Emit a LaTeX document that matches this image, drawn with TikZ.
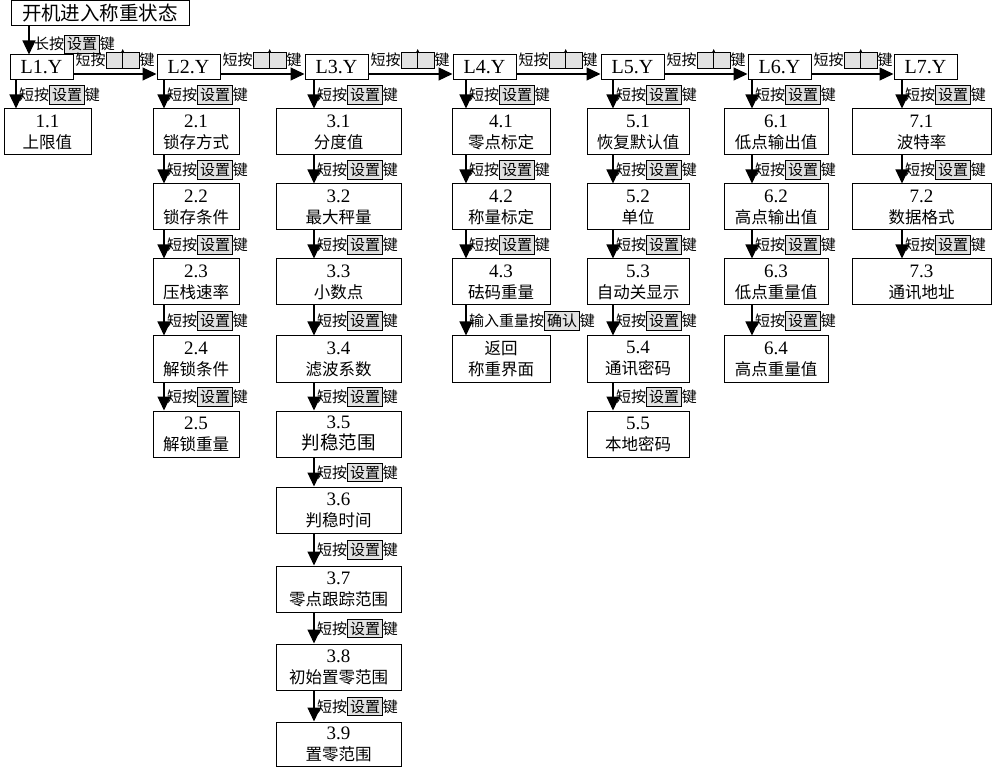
\documentclass[tikz,border=0pt]{standalone}
\usepackage{fontspec}
\setmainfont{Liberation Serif}
\newfontfamily\cjk{Noto Sans CJK SC}
\usetikzlibrary{arrows.meta,calc}
\definecolor{keygray}{HTML}{E2E2E2}
\setlength{\fboxsep}{1.8pt}
\setlength{\fboxrule}{1pt}
\newcommand{\zh}[1]{{\cjk #1}}
\newcommand{\gkey}[1]{\fcolorbox{black}{keygray}{\zh{#1}}}
\newcommand{\upkey}{\tikz[baseline=0pt]{\draw[line width=1pt,fill=keygray] (0pt,-3pt) rectangle (33pt,13pt); \draw[line width=0.7pt,-{Stealth[length=4pt,width=3.5pt]}] (16.5pt,-3pt) -- (16.5pt,17pt);}}
\newcommand{\dlab}{\zh{短按}\gkey{设置}\zh{键}}
\newcommand{\subbox}[6]{\node[box, minimum width={#3-#2}] (#1) at ({(#2+#3)/2},{#4+23}) {{\fontsize{19}{21}\selectfont #5}\\{\cjk\fontsize{16.5}{21}\selectfont #6}};}
\newcommand{\stepdown}[4]{\draw[arr] (#1.south -| #3) -- (#2.north -| #3);
  \path (#1.south -| #3) -- (#2.north -| #3) node[midway, lab, anchor=base west, xshift=3pt, yshift=-6pt] (lab#2) {#4};}
\begin{document}
\begin{tikzpicture}[x=1pt,y=-1pt,
  box/.style={draw,line width=1pt,inner sep=0pt,align=center,minimum height=46pt,font=\fontsize{17}{21}\selectfont},
  lbox/.style={draw,line width=1pt,inner sep=0pt,minimum width=63pt,minimum height=25pt,font=\fontsize{20}{22}\selectfont},
  arr/.style={line width=1.2pt,-{Triangle[length=14pt,width=13pt]}},
  lab/.style={inner sep=0pt,font=\cjk\fontsize{15}{17}\selectfont}]
\useasboundingbox[fill=white] (0,0) rectangle (999,767);

% start box
\node[draw,line width=1pt,minimum width=178pt,minimum height=25pt,inner sep=0pt,font=\cjk\fontsize{19.5}{21}\selectfont] (start) at (100,13.5) {开机进入称重状态};

% L boxes
\node[lbox] (L1) at (41.5,67.5) {L1.Y};
\node[lbox] (L2) at (188.5,67.5) {L2.Y};
\node[lbox] (L3) at (336.5,67.5) {L3.Y};
\node[lbox] (L4) at (484.5,67.5) {L4.Y};
\node[lbox] (L5) at (632.5,67.5) {L5.Y};
\node[lbox] (L6) at (779.5,67.5) {L6.Y};
\node[lbox] (L7) at (925.5,67.5) {L7.Y};

\coordinate (c0) at (29,0);
\draw[arr] (start.south -| c0) -- (L1.north -| c0);
\node[lab,anchor=base west] (labL1) at (34,50) {\zh{长按}\gkey{设置}\zh{键}};

\foreach \i in {1,...,6}{
  \pgfmathtruncatemacro{\j}{\i+1}
  \draw[arr] (L\i.east |- 0,74) -- (L\j.west |- 0,74);
  \node[lab,anchor=base west] (h\i) at ($(L\i.east |- 0,66)+(2,0)$) {\zh{短按}\upkey\zh{键}};
}

% column arrow x positions
\coordinate (c1) at (16,0);
\coordinate (c2) at (164,0);
\coordinate (c3) at (314,0);
\coordinate (c4) at (466,0);
\coordinate (c5) at (613,0);
\coordinate (c6) at (752,0);
\coordinate (c7) at (902,0);

% column 1
\subbox{s11}{4}{91}{109}{1.1}{上限值}
% column 2
\subbox{s21}{153}{239}{109}{2.1}{锁存方式}
\subbox{s22}{153}{239}{184}{2.2}{锁存条件}
\subbox{s23}{153}{239}{259}{2.3}{压栈速率}
\subbox{s24}{153}{239}{336}{2.4}{解锁条件}
\subbox{s25}{153}{239}{411}{2.5}{解锁重量}
% column 3
\subbox{s31}{276}{401}{109}{3.1}{分度值}
\subbox{s32}{276}{401}{184}{3.2}{最大秤量}
\subbox{s33}{276}{401}{259}{3.3}{小数点}
\subbox{s34}{276}{401}{336}{3.4}{滤波系数}
\node[box, minimum width=125pt] (s35) at (338.5,434) {{\fontsize{19}{21}\selectfont 3.5}\\{\cjk\fontsize{18.5}{21}\selectfont 判稳范围}};
\subbox{s36}{276}{401}{487}{3.6}{判稳时间}
\subbox{s37}{276}{401}{566}{3.7}{零点跟踪范围}
\subbox{s38}{276}{401}{644}{3.8}{初始置零范围}
\node[box, minimum width=125pt, minimum height=44pt] (s39) at (338.5,744) {{\fontsize{19}{21}\selectfont 3.9}\\{\cjk\fontsize{16.5}{21}\selectfont 置零范围}};
% column 4
\subbox{s41}{452}{550}{109}{4.1}{零点标定}
\subbox{s42}{452}{550}{184}{4.2}{称量标定}
\subbox{s43}{452}{550}{259}{4.3}{砝码重量}
\node[box, minimum width=98pt, font=\cjk\fontsize{16.5}{21}\selectfont] (ret) at (501,359) {返回\\称重界面};
% column 5
\subbox{s51}{587}{689}{109}{5.1}{恢复默认值}
\subbox{s52}{587}{689}{184}{5.2}{单位}
\subbox{s53}{587}{689}{259}{5.3}{自动关显示}
\subbox{s54}{587}{689}{336}{5.4}{通讯密码}
\subbox{s55}{587}{689}{411}{5.5}{本地密码}
% column 6
\subbox{s61}{724}{828}{109}{6.1}{低点输出值}
\subbox{s62}{724}{828}{184}{6.2}{高点输出值}
\subbox{s63}{724}{828}{259}{6.3}{低点重量值}
\subbox{s64}{724}{828}{336}{6.4}{高点重量值}
% column 7
\subbox{s71}{852}{991}{109}{7.1}{波特率}
\subbox{s72}{852}{991}{184}{7.2}{数据格式}
\subbox{s73}{852}{991}{259}{7.3}{通讯地址}

% vertical steps
\stepdown{L1}{s11}{c1}{\dlab}
\stepdown{L2}{s21}{c2}{\dlab}
\stepdown{s21}{s22}{c2}{\dlab}
\stepdown{s22}{s23}{c2}{\dlab}
\stepdown{s23}{s24}{c2}{\dlab}
\stepdown{s24}{s25}{c2}{\dlab}
\stepdown{L3}{s31}{c3}{\dlab}
\stepdown{s31}{s32}{c3}{\dlab}
\stepdown{s32}{s33}{c3}{\dlab}
\stepdown{s33}{s34}{c3}{\dlab}
\stepdown{s34}{s35}{c3}{\dlab}
\stepdown{s35}{s36}{c3}{\dlab}
\stepdown{s36}{s37}{c3}{\dlab}
\stepdown{s37}{s38}{c3}{\dlab}
\stepdown{s38}{s39}{c3}{\dlab}
\stepdown{L4}{s41}{c4}{\dlab}
\stepdown{s41}{s42}{c4}{\dlab}
\stepdown{s42}{s43}{c4}{\dlab}
\stepdown{s43}{ret}{c4}{\zh{输入重量按}\gkey{确认}\zh{键}}
\stepdown{L5}{s51}{c5}{\dlab}
\stepdown{s51}{s52}{c5}{\dlab}
\stepdown{s52}{s53}{c5}{\dlab}
\stepdown{s53}{s54}{c5}{\dlab}
\stepdown{s54}{s55}{c5}{\dlab}
\stepdown{L6}{s61}{c6}{\dlab}
\stepdown{s61}{s62}{c6}{\dlab}
\stepdown{s62}{s63}{c6}{\dlab}
\stepdown{s63}{s64}{c6}{\dlab}
\stepdown{L7}{s71}{c7}{\dlab}
\stepdown{s71}{s72}{c7}{\dlab}
\stepdown{s72}{s73}{c7}{\dlab}
\end{tikzpicture}
\end{document}
